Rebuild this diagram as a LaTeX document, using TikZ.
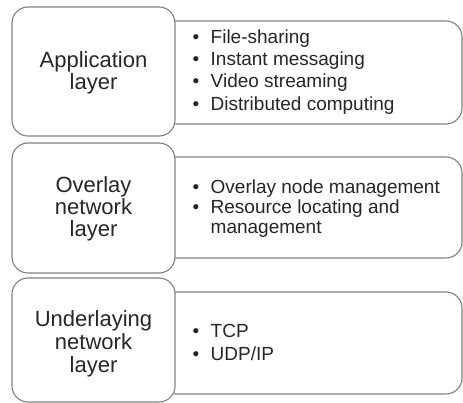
\documentclass[tikz,border=0pt]{standalone}
\usepackage{fontspec}
\setmainfont{Liberation Sans}
\begin{document}
\begin{tikzpicture}[x=1pt,y=-1pt,
  box/.style={draw=black!50, line width=1.1pt, rounded corners=16pt, fill=white, inner sep=0pt},
  ltxt/.style={font=\fontsize{22}{22}\selectfont, text=black!85, anchor=base, inner sep=0pt},
  rtxt/.style={font=\fontsize{19}{19}\selectfont, text=black!85, anchor=base west, inner sep=0pt},
  bul/.style={font=\fontsize{19}{19}\selectfont, text=black!85, anchor=base, inner sep=0pt}]
\useasboundingbox (0,0) rectangle (463,403);
% right boxes (behind)
\node[box, minimum width=302pt, minimum height=103pt] (R1) at (311,72.5) {};
\node[box, minimum width=302pt, minimum height=101pt] (R2) at (311,207.5) {};
\node[box, minimum width=302pt, minimum height=102pt] (R3) at (311,343) {};
% left boxes (front)
\node[box, minimum width=163pt, minimum height=129pt] (L1) at (93.5,71.5) {};
\node[box, minimum width=163pt, minimum height=130pt] (L2) at (93.5,208) {};
\node[box, minimum width=163pt, minimum height=124pt] (L3) at (93.5,340) {};
% left texts
\node[ltxt] (l1a) at (93.5,68) {Application};
\node[ltxt] (l1b) at (93.5,90) {layer};
\node[ltxt] (l2a) at (93.5,193) {Overlay};
\node[ltxt] (l2b) at (93.5,215) {network};
\node[ltxt] (l2c) at (93.5,237) {layer};
\node[ltxt] (l3a) at (93.5,326) {Underlaying};
\node[ltxt] (l3b) at (93.5,349) {network};
\node[ltxt] (l3c) at (93.5,372) {layer};
% right texts box 1
\node[bul] (b1a) at (196,44) {•};
\node[rtxt] (r1a) at (210.5,44) {File-sharing};
\node[bul] (b1b) at (196,66) {•};
\node[rtxt] (r1b) at (210.5,66) {Instant messaging};
\node[bul] (b1c) at (196,88) {•};
\node[rtxt] (r1c) at (210.5,88) {Video streaming};
\node[bul] (b1d) at (196,111) {•};
\node[rtxt] (r1d) at (210.5,111) {Distributed computing};
% box 2
\node[bul] (b2a) at (196,194) {•};
\node[rtxt] (r2a) at (210.5,194) {Overlay node management};
\node[bul] (b2b) at (196,213.5) {•};
\node[rtxt] (r2b) at (210.5,213.5) {Resource locating and};
\node[rtxt] (r2c) at (210.5,233.5) {management};
% box 3
\node[bul] (b3a) at (196,337) {•};
\node[rtxt] (r3a) at (210.5,337) {TCP};
\node[bul] (b3b) at (196,360) {•};
\node[rtxt] (r3b) at (210.5,360) {UDP/IP};
\end{tikzpicture}
\end{document}
